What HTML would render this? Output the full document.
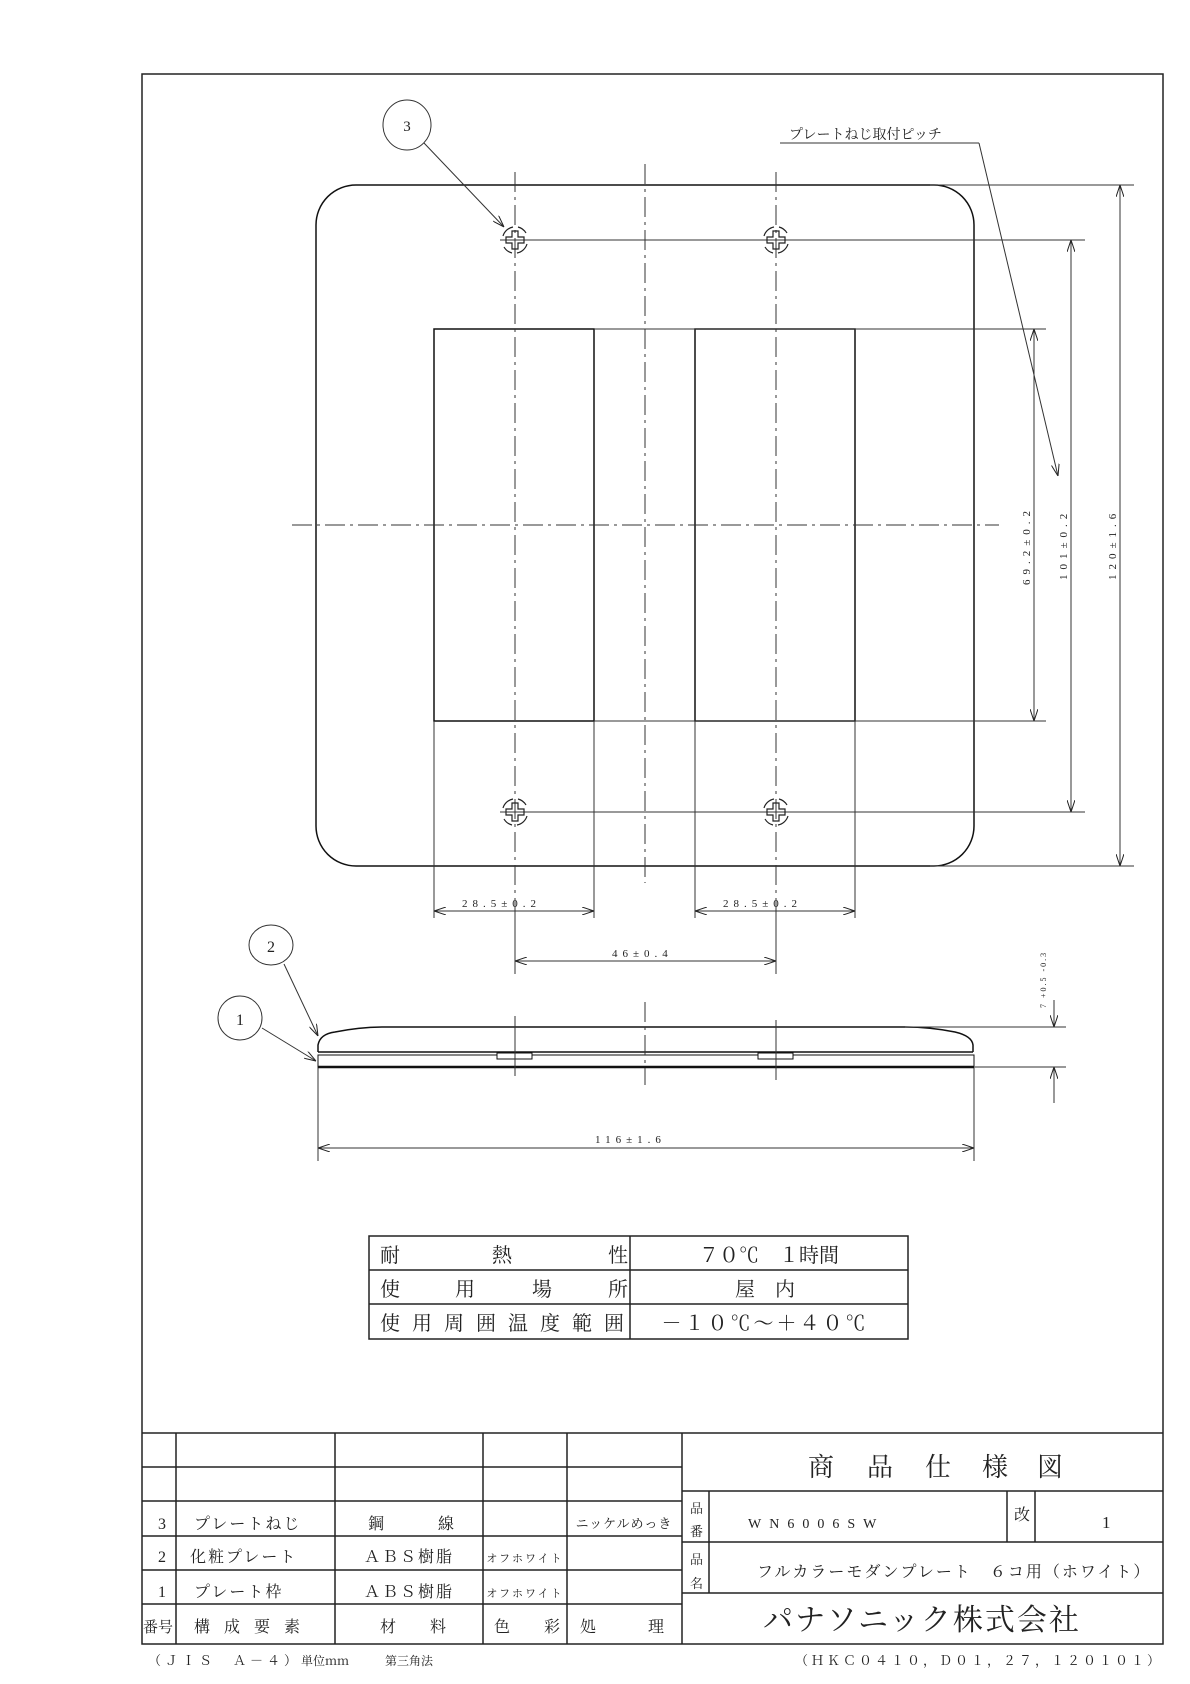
<!DOCTYPE html>
<html><head><meta charset="utf-8"><style>
html,body{margin:0;padding:0;background:#fff;}
svg{display:block;}
text{font-family:"Liberation Serif","Noto Serif CJK SC","Noto Sans CJK JP",serif;fill:#222;}
</style></head><body>
<svg width="1190" height="1684" viewBox="0 0 1190 1684" xmlns="http://www.w3.org/2000/svg">
<defs>
<marker id="a" viewBox="0 0 12 8" refX="12" refY="4" markerWidth="12" markerHeight="8" orient="auto-start-reverse" markerUnits="userSpaceOnUse">
<path d="M0,0 L12,4 L0,8" fill="none" stroke="#222" stroke-width="1"/>
</marker>
<g id="scr" fill="none" stroke="#222" stroke-width="1.2">
<path d="M-12,-4 A13,13 0 0 1 -2,-13"/><path d="M3,-13 A13,13 0 0 1 11,-7"/>
<path d="M12,4 A13,13 0 0 1 2,13"/><path d="M-3,13 A13,13 0 0 1 -11,7"/>
<path d="M-3,-9 H3 V-3 H9 V3 H3 V9 H-3 V3 H-9 V-3 H-3 Z"/>
</g>
</defs>
<rect x="142" y="74" width="1021" height="1570" fill="none" stroke="#222" stroke-width="1.5"/>

<!-- plate -->
<rect x="316" y="185" width="658" height="681" rx="40" fill="none" stroke="#111" stroke-width="1.5"/>
<rect x="434" y="329" width="160" height="392" fill="none" stroke="#111" stroke-width="1.5"/>
<rect x="695" y="329" width="160" height="392" fill="none" stroke="#111" stroke-width="1.5"/>

<g stroke="#333" stroke-width="1" fill="none">
<line x1="645" y1="164" x2="645" y2="883" stroke-dasharray="20,5,3,5"/>
<line x1="292" y1="525" x2="999" y2="525" stroke-dasharray="20,5,3,5"/>
<line x1="515" y1="172" x2="515" y2="900" stroke-dasharray="20,5,3,5"/>
<line x1="776" y1="172" x2="776" y2="900" stroke-dasharray="20,5,3,5"/>
<line x1="515" y1="900" x2="515" y2="974"/>
<line x1="776" y1="900" x2="776" y2="974"/>
<!-- ext lines -->
<line x1="500" y1="240" x2="1085" y2="240"/>
<line x1="500" y1="812" x2="1085" y2="812"/>
<line x1="594" y1="329" x2="1046" y2="329"/>
<line x1="594" y1="721" x2="1046" y2="721"/>
<line x1="930" y1="185" x2="1134" y2="185"/>
<line x1="930" y1="866" x2="1134" y2="866"/>
<line x1="434" y1="721" x2="434" y2="918"/>
<line x1="594" y1="721" x2="594" y2="918"/>
<line x1="695" y1="721" x2="695" y2="918"/>
<line x1="855" y1="721" x2="855" y2="918"/>
<!-- dims -->
<line x1="1034" y1="329" x2="1034" y2="721" marker-start="url(#a)" marker-end="url(#a)"/>
<line x1="1071" y1="240" x2="1071" y2="812" marker-start="url(#a)" marker-end="url(#a)"/>
<line x1="1120" y1="185" x2="1120" y2="866" marker-start="url(#a)" marker-end="url(#a)"/>
<line x1="434" y1="911" x2="594" y2="911" marker-start="url(#a)" marker-end="url(#a)"/>
<line x1="695" y1="911" x2="855" y2="911" marker-start="url(#a)" marker-end="url(#a)"/>
<line x1="515" y1="961" x2="776" y2="961" marker-start="url(#a)" marker-end="url(#a)"/>
<line x1="318" y1="1148" x2="974" y2="1148" marker-start="url(#a)" marker-end="url(#a)"/>
<line x1="318" y1="1067" x2="318" y2="1161"/>
<line x1="974" y1="1067" x2="974" y2="1161"/>
<!-- callouts -->
<ellipse cx="407" cy="125" rx="24" ry="25"/>
<line x1="424" y1="143" x2="504" y2="227" marker-end="url(#a)"/>
<ellipse cx="271" cy="945" rx="22" ry="20"/>
<line x1="284" y1="964" x2="318" y2="1036" marker-end="url(#a)"/>
<ellipse cx="240" cy="1018" rx="22" ry="22"/>
<line x1="262" y1="1028" x2="316" y2="1061" marker-end="url(#a)"/>
<line x1="780" y1="143" x2="979" y2="143"/>
<line x1="979" y1="143" x2="1058" y2="476" marker-end="url(#a)"/>
</g>

<use href="#scr" x="515" y="240"/><use href="#scr" x="776" y="240"/>
<use href="#scr" x="515" y="812"/><use href="#scr" x="776" y="812"/>

<text x="407" y="131" font-size="15" text-anchor="middle">3</text>
<text x="271" y="952" font-size="16" text-anchor="middle">2</text>
<text x="240" y="1025" font-size="16" text-anchor="middle">1</text>
<text x="789" y="139" font-size="14" font-family="Liberation Sans,Noto Sans CJK JP,sans-serif">プレートねじ取付ピッチ</text>

<g font-size="11" letter-spacing="5">
<text x="462" y="907">28.5±0.2</text>
<text x="723" y="907">28.5±0.2</text>
<text x="612" y="957">46±0.4</text>
<text x="595" y="1143">116±1.6</text>
<text transform="translate(1030,585) rotate(-90)">69.2±0.2</text>
<text transform="translate(1067,580) rotate(-90)">101±0.2</text>
<text transform="translate(1116,580) rotate(-90)">120±1.6</text>
</g>
<text transform="translate(1046,1008) rotate(-90)" font-size="8" letter-spacing="2">7 +0.5 -0.3</text>

<!-- side view -->
<g fill="none" stroke="#111" stroke-width="1.5">
<path d="M318,1052 L318,1045 Q320,1034 335,1032 Q360,1027 385,1027 L905,1027 Q930,1027 955,1032 Q972,1036 973,1045 L973,1052"/>
<line x1="318" y1="1052" x2="973" y2="1052"/>
<rect x="318" y="1055" width="656" height="12" stroke-width="1"/>
<line x1="318" y1="1067" x2="974" y2="1067" stroke-width="2.5"/>
<rect x="497" y="1053" width="35" height="6" fill="#fff" stroke-width="1"/>
<rect x="758" y="1053" width="35" height="6" fill="#fff" stroke-width="1"/>
</g>
<g stroke="#333" stroke-width="1" fill="none">
<line x1="515" y1="1016" x2="515" y2="1076"/>
<line x1="776" y1="1020" x2="776" y2="1080"/>
<line x1="645" y1="1002" x2="645" y2="1085" stroke-dasharray="20,5,3,5"/>
<line x1="905" y1="1027" x2="1066" y2="1027"/>
<line x1="974" y1="1067" x2="1066" y2="1067" stroke="#777" stroke-width="1.5"/>
<line x1="1054" y1="1000" x2="1054" y2="1027" marker-end="url(#a)"/>
<line x1="1054" y1="1103" x2="1054" y2="1067" marker-end="url(#a)"/>
</g>

<!-- spec table -->
<g fill="none" stroke="#222" stroke-width="1.5">
<rect x="369" y="1236" width="539" height="103"/>
<line x1="369" y1="1270" x2="908" y2="1270"/>
<line x1="369" y1="1304" x2="908" y2="1304"/>
<line x1="630" y1="1236" x2="630" y2="1339"/>
</g>
<g font-size="20">
<text x="380" y="1262">耐</text><text x="492" y="1262">熱</text><text x="608" y="1262">性</text>
<text x="769" y="1262" text-anchor="middle">７０℃　１時間</text>
<text x="380" y="1296">使</text><text x="455" y="1296">用</text><text x="532" y="1296">場</text><text x="608" y="1296">所</text>
<text x="765" y="1296" text-anchor="middle">屋　内</text>
<text x="380" y="1330" letter-spacing="12">使用周囲温度範囲</text>
<text x="765" y="1330" text-anchor="middle" letter-spacing="3">－１０℃～＋４０℃</text>
</g>

<!-- title block -->
<g fill="none" stroke="#222" stroke-width="1.5">
<line x1="142" y1="1433" x2="1163" y2="1433"/>
<line x1="142" y1="1467" x2="682" y2="1467"/>
<line x1="142" y1="1501" x2="682" y2="1501"/>
<line x1="142" y1="1536" x2="682" y2="1536"/>
<line x1="142" y1="1570" x2="682" y2="1570"/>
<line x1="142" y1="1604" x2="682" y2="1604"/>
<line x1="176" y1="1433" x2="176" y2="1644"/>
<line x1="335" y1="1433" x2="335" y2="1644"/>
<line x1="483" y1="1433" x2="483" y2="1644"/>
<line x1="567" y1="1433" x2="567" y2="1644"/>
<line x1="682" y1="1433" x2="682" y2="1644"/>
<line x1="682" y1="1491" x2="1163" y2="1491"/>
<line x1="682" y1="1542" x2="1163" y2="1542"/>
<line x1="682" y1="1593" x2="1163" y2="1593"/>
<line x1="709" y1="1491" x2="709" y2="1593"/>
<line x1="1007" y1="1491" x2="1007" y2="1542"/>
<line x1="1035" y1="1491" x2="1035" y2="1542"/>
</g>
<g font-size="16">
<text x="158" y="1529">3</text><text x="158" y="1562">2</text><text x="158" y="1597">1</text>
<text x="194" y="1529" letter-spacing="2">プレートねじ</text>
<text x="190" y="1562" letter-spacing="2">化粧プレート</text>
<text x="194" y="1597" letter-spacing="2">プレート枠</text>
<text x="368" y="1529">鋼</text><text x="438" y="1529">線</text>
<text x="409" y="1562" text-anchor="middle" letter-spacing="2">ＡＢＳ樹脂</text>
<text x="409" y="1597" text-anchor="middle" letter-spacing="2">ＡＢＳ樹脂</text>
<text x="525" y="1562" text-anchor="middle" font-size="11" fill="#555" letter-spacing="2">オフホワイト</text>
<text x="525" y="1597" text-anchor="middle" font-size="11" fill="#555" letter-spacing="2">オフホワイト</text>
<text x="624" y="1528" text-anchor="middle" font-size="13" letter-spacing="1">ニッケルめっき</text>
<text x="143" y="1632" font-size="15">番号</text>
<text x="194" y="1632" letter-spacing="14">構成要素</text>
<text x="380" y="1632">材</text><text x="430" y="1632">料</text>
<text x="494" y="1632">色</text><text x="544" y="1632">彩</text>
<text x="580" y="1632">処</text><text x="648" y="1632">理</text>
</g>
<g font-size="26">
<text x="808" y="1476">商</text><text x="867" y="1476">品</text><text x="925" y="1476">仕</text><text x="982" y="1476">様</text><text x="1037" y="1476">図</text>
</g>
<text x="690" y="1513" font-size="13">品</text><text x="690" y="1536" font-size="13">番</text>
<text x="690" y="1564" font-size="13">品</text><text x="690" y="1588" font-size="13">名</text>
<text x="748" y="1528" font-size="14" letter-spacing="8">WN6006SW</text>
<text x="1014" y="1520" font-size="16">改</text>
<text x="1102" y="1528" font-size="17">1</text>
<text x="757" y="1577" font-size="16" letter-spacing="2">フルカラーモダンプレート　６コ用（ホワイト）</text>
<text x="763" y="1630" font-size="30" letter-spacing="2">パナソニック株式会社</text>
<text x="148" y="1665" font-size="13" letter-spacing="4">（ＪＩＳ　Ａ－４）</text>
<text x="301" y="1665" font-size="12">単位ｍｍ</text>
<text x="385" y="1665" font-size="12">第三角法</text>
<text x="1163" y="1665" font-size="13" text-anchor="end" letter-spacing="3">（ＨＫＣ０４１０，Ｄ０１，２７，１２０１０１）</text>
</svg>
</body></html>
